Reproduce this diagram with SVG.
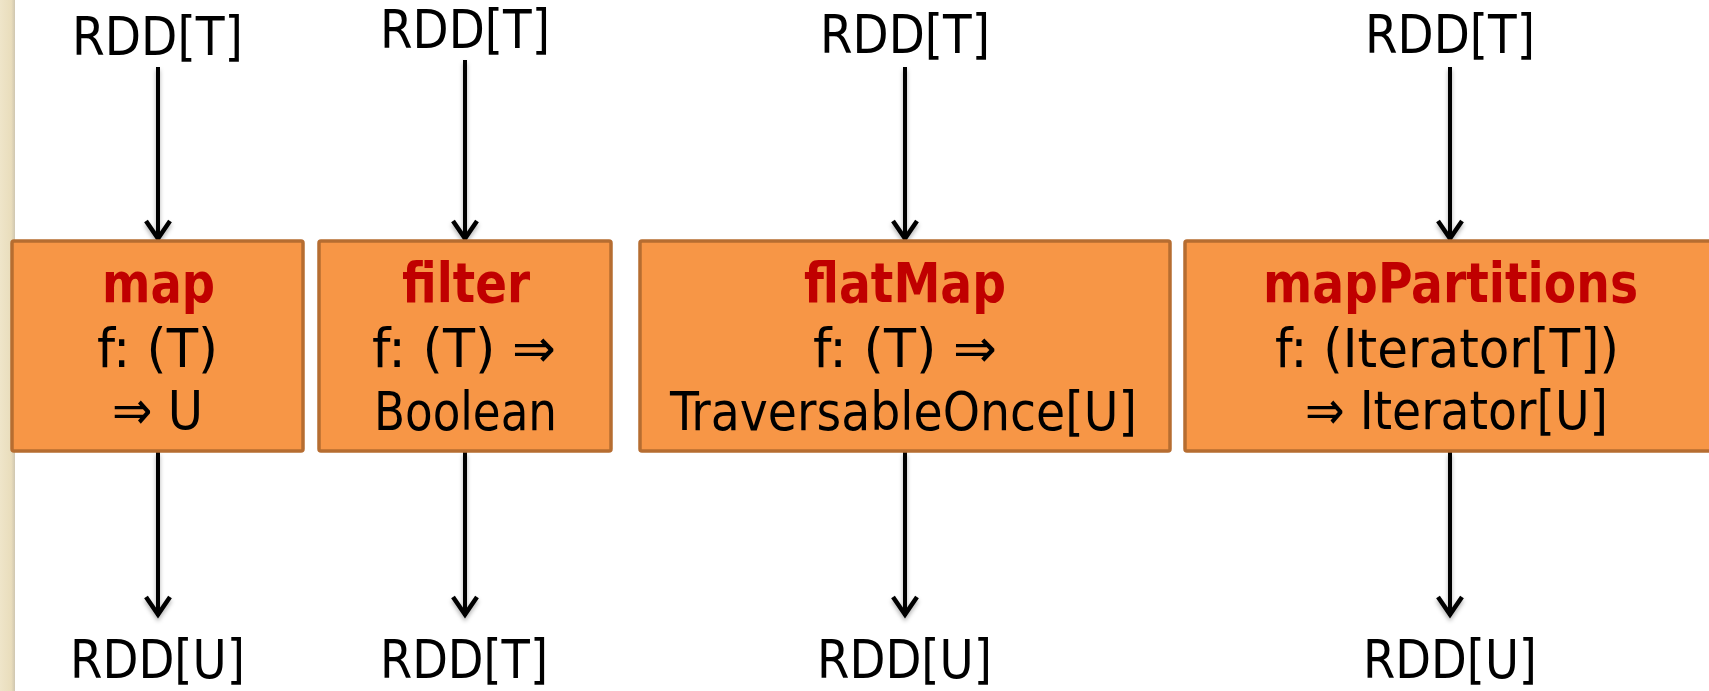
<svg xmlns="http://www.w3.org/2000/svg" width="1709" height="691" viewBox="0 0 1709 691">
  <style>
    .lbl { font-family: "DejaVu Sans Condensed", "DejaVu Sans", sans-serif; font-size: 54px; fill: #000; }
    .op { font-family: "DejaVu Sans Condensed", "DejaVu Sans", sans-serif; font-size: 55px; font-weight: bold; fill: #C00000; }
    .box { fill: #F79646; stroke: #B66D31; stroke-width: 3.5; }
    .edge { stroke: #000; stroke-width: 4; fill: none; marker-end: url(#head); }
  </style>
  <defs>
    <marker id="head" markerUnits="userSpaceOnUse" viewBox="-22 -15 26 30" markerWidth="26" markerHeight="30" refX="0" refY="0" orient="auto">
      <path d="M-19,-12 L-1.5,0 L-19,12" fill="none" stroke="#000" stroke-width="4.5" stroke-linejoin="miter"/>
    </marker>
    <filter id="shade" filterUnits="userSpaceOnUse" x="0" y="0" width="1709" height="691">
      <feDropShadow dx="0" dy="3" stdDeviation="2" flood-color="#000" flood-opacity="0.3"/>
    </filter>
    <linearGradient id="edgeShade" x1="0" x2="1" y1="0" y2="0">
      <stop offset="0" stop-color="#EFE5C9"/>
      <stop offset="0.75" stop-color="#E9DDBC"/>
      <stop offset="1" stop-color="#CFC6B0"/>
    </linearGradient>
  </defs>

  <!-- page background and the textured strip on the left margin -->
  <rect x="0" y="0" width="1709" height="691" fill="#FFFFFF"/>
  <rect x="0" y="0" width="15" height="691" fill="url(#edgeShade)"/>

  <!-- connectors -->
  <g id="connectors" filter="url(#shade)">
    <line class="edge" x1="158" y1="67" x2="158" y2="240"/>
    <line class="edge" x1="465" y1="60" x2="465" y2="240"/>
    <line class="edge" x1="905" y1="67" x2="905" y2="240"/>
    <line class="edge" x1="1450" y1="67" x2="1450" y2="240"/>
    <line class="edge" x1="158" y1="452" x2="158" y2="616"/>
    <line class="edge" x1="465" y1="452" x2="465" y2="616"/>
    <line class="edge" x1="905" y1="452" x2="905" y2="616"/>
    <line class="edge" x1="1450" y1="452" x2="1450" y2="616"/>
  </g>

  <!-- input and output datasets -->
  <g id="in-map"><text class="lbl" x="72" y="55" textLength="171" lengthAdjust="spacingAndGlyphs">RDD[T]</text></g>
  <g id="in-filter"><text class="lbl" x="380" y="48" textLength="170" lengthAdjust="spacingAndGlyphs">RDD[T]</text></g>
  <g id="in-flatmap"><text class="lbl" x="820" y="53" textLength="170" lengthAdjust="spacingAndGlyphs">RDD[T]</text></g>
  <g id="in-mappartitions"><text class="lbl" x="1365" y="53" textLength="170" lengthAdjust="spacingAndGlyphs">RDD[T]</text></g>

  <g id="out-map"><text class="lbl" x="70" y="678" textLength="175" lengthAdjust="spacingAndGlyphs">RDD[U]</text></g>
  <g id="out-filter"><text class="lbl" x="380" y="678" textLength="168" lengthAdjust="spacingAndGlyphs">RDD[T]</text></g>
  <g id="out-flatmap"><text class="lbl" x="817" y="678" textLength="175" lengthAdjust="spacingAndGlyphs">RDD[U]</text></g>
  <g id="out-mappartitions"><text class="lbl" x="1363" y="678" textLength="174" lengthAdjust="spacingAndGlyphs">RDD[U]</text></g>

  <!-- transformations -->
  <g id="map">
    <rect class="box" x="12" y="241" width="291" height="210" rx="2"/>
    <text class="op" x="102" y="302" textLength="113" lengthAdjust="spacingAndGlyphs">map</text>
    <text class="lbl" x="97" y="367" textLength="121" lengthAdjust="spacingAndGlyphs">f: (T)</text>
    <text class="lbl" x="112" y="429" textLength="91" lengthAdjust="spacingAndGlyphs">⇒ U</text>
  </g>

  <g id="filter">
    <rect class="box" x="319" y="241" width="292" height="210" rx="2"/>
    <text class="op" x="402" y="302" textLength="128" lengthAdjust="spacingAndGlyphs">filter</text>
    <text class="lbl" x="372" y="367" textLength="184" lengthAdjust="spacingAndGlyphs">f: (T) ⇒</text>
    <text class="lbl" x="374" y="430" textLength="183" lengthAdjust="spacingAndGlyphs">Boolean</text>
  </g>

  <g id="flatMap">
    <rect class="box" x="640" y="241" width="530" height="210" rx="2"/>
    <text class="op" x="804" y="302" textLength="202" lengthAdjust="spacingAndGlyphs">flatMap</text>
    <text class="lbl" x="813" y="367" textLength="184" lengthAdjust="spacingAndGlyphs">f: (T) ⇒</text>
    <text class="lbl" x="670" y="430" textLength="467" lengthAdjust="spacingAndGlyphs">TraversableOnce[U]</text>
  </g>

  <g id="mapPartitions">
    <rect class="box" x="1185" y="241" width="532" height="210" rx="2"/>
    <text class="op" x="1263" y="302" textLength="375" lengthAdjust="spacingAndGlyphs">mapPartitions</text>
    <text class="lbl" x="1275" y="367" textLength="344" lengthAdjust="spacingAndGlyphs">f: (Iterator[T])</text>
    <text class="lbl" x="1305" y="429" textLength="303" lengthAdjust="spacingAndGlyphs">⇒ Iterator[U]</text>
  </g>
</svg>
